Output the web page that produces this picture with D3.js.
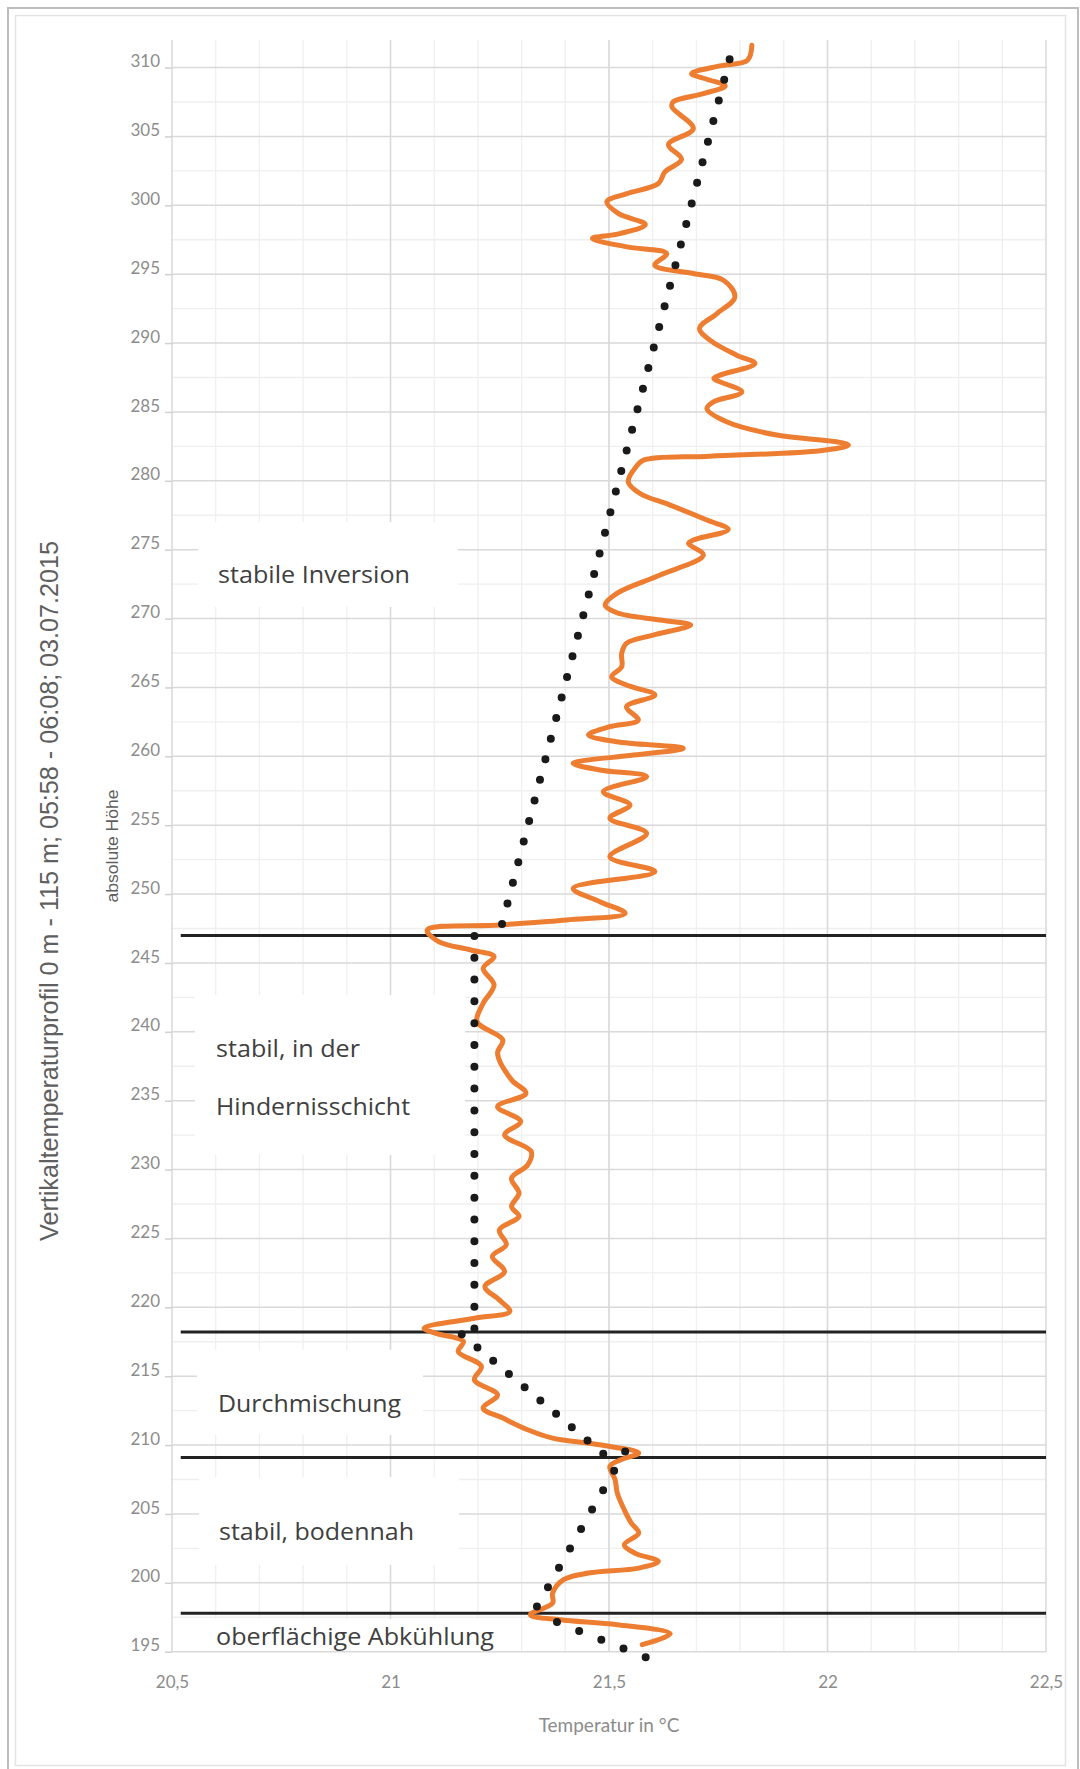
<!DOCTYPE html>
<html>
<head>
<meta charset="utf-8">
<script src="https://cdn.jsdelivr.net/npm/d3@7"></script>
<style>
  body { margin: 0; background: #fff; }
  svg { display: block; }
  .tick-label { font-family: Lato, "Open Sans", sans-serif; fill: #8c8c8c; }
  .note { font-family: "Open Sans", "Noto Sans", sans-serif; fill: #404040; }
</style>
</head>
<body>
<div id="chart"></div>
<script>
/* Vertical temperature profile: measured curve, layer trend lines, layer labels */

// measured profile, read top to bottom (temperature in °C, absolute height)
const profileTemp = [
  21.827, 21.817, 21.754, 21.689, 21.724, 21.766, 21.716, 21.647, 21.644, 21.693,
  21.636, 21.666, 21.628, 21.613, 21.541, 21.495, 21.522, 21.583, 21.525, 21.462,
  21.541, 21.632, 21.605, 21.693, 21.762, 21.788, 21.747, 21.707, 21.731, 21.792,
  21.834, 21.754, 21.740, 21.804, 21.739, 21.724, 21.769, 21.884, 22.021, 22.048,
  21.983, 21.731, 21.579, 21.562, 21.544, 21.571, 21.640, 21.724, 21.773, 21.693,
  21.682, 21.716, 21.617, 21.518, 21.491, 21.518, 21.617, 21.687, 21.601, 21.540,
  21.529, 21.529, 21.506, 21.540, 21.605, 21.540, 21.567, 21.502, 21.453, 21.517,
  21.670, 21.556, 21.418, 21.479, 21.586, 21.487, 21.548, 21.502, 21.586, 21.502,
  21.605, 21.418, 21.479, 21.537, 21.403, 21.251, 21.084, 21.110, 21.184, 21.237,
  21.212, 21.237, 21.212, 21.198, 21.257, 21.245, 21.277, 21.310, 21.245, 21.298,
  21.261, 21.322, 21.314, 21.277, 21.294, 21.277, 21.294, 21.249, 21.265, 21.233,
  21.261, 21.216, 21.249, 21.273, 21.192, 21.077, 21.102, 21.167, 21.155, 21.208,
  21.192, 21.245, 21.212, 21.257, 21.314, 21.371, 21.478, 21.568, 21.527, 21.502,
  21.514, 21.519, 21.535, 21.551, 21.568, 21.535, 21.559, 21.613, 21.568, 21.453,
  21.396, 21.371, 21.371, 21.320, 21.388, 21.519, 21.640, 21.576
];
const profileHeight = [
  311.62, 310.53, 310.12, 309.56, 309.15, 308.67, 308.11, 307.51, 307.14, 305.57,
  304.41, 303.34, 302.43, 301.58, 300.85, 300.25, 299.40, 298.60, 297.95, 297.59,
  296.98, 296.50, 295.65, 295.05, 294.56, 293.35, 292.14, 291.06, 290.21, 289.12,
  288.52, 287.67, 287.43, 286.46, 285.73, 285.25, 284.28, 283.32, 282.83, 282.59,
  282.18, 281.79, 281.50, 281.02, 279.93, 279.08, 278.24, 277.15, 276.47, 275.70,
  275.45, 274.61, 273.16, 271.83, 270.98, 270.42, 269.89, 269.53, 268.80, 268.20,
  267.47, 266.50, 265.78, 265.17, 264.45, 263.60, 262.63, 262.15, 261.55, 261.06,
  260.58, 260.09, 259.49, 259.01, 258.52, 257.43, 256.47, 255.50, 254.41, 252.71,
  251.63, 250.42, 249.45, 248.60, 248.12, 247.76, 247.39, 246.55, 245.94, 245.46,
  244.61, 243.40, 242.07, 240.74, 239.41, 238.44, 236.51, 235.54, 234.57, 233.49,
  232.52, 231.31, 230.34, 229.37, 228.29, 227.32, 226.59, 225.62, 224.54, 223.69,
  222.60, 221.51, 220.54, 219.70, 219.21, 218.49, 218.13, 217.52, 216.79, 215.71,
  214.74, 213.65, 212.68, 211.96, 211.11, 210.50, 210.02, 209.42, 208.93, 208.45,
  207.48, 206.51, 205.30, 204.34, 203.61, 202.77, 202.16, 201.56, 201.07, 200.71,
  200.23, 199.26, 198.53, 197.68, 197.32, 196.96, 196.30, 195.51
];

// linear trend per layer (start / end) and the number of dots drawn along it
const trendTemp = [[21.776, 21.255], [21.192, 21.192], [21.163, 21.487], [21.537, 21.335], [21.381, 21.584]];
const trendHeight = [[310.6, 247.8], [246.96, 218.45], [218.05, 209.37], [209.54, 198.27], [197.15, 194.59]];
const trendDots = [43, 19, 10, 9, 5];

// layer boundaries (height)
const layerBounds = [247.0, 218.2, 209.1, 197.8];

const xTicks = [20.5, 21, 21.5, 22, 22.5];
const xTickLabels = ['20,5', '21', '21,5', '22', '22,5'];
const yTicks = [195, 200, 205, 210, 215, 220, 225, 230, 235, 240, 245, 250, 255, 260,
  265, 270, 275, 280, 285, 290, 295, 300, 305, 310];

const layerNames = [['stabile Inversion'], ['stabil, in der', 'Hindernisschicht'], ['Durchmischung'],
  ['stabil, bodennah'], ['oberflächige Abkühlung']];

// label boxes (pixel layout): white box, text start, baselines, text widths
const labelBoxes = [
  { x: 198, y: 522, w: 260, h: 85, tx: 218, base: [583], len: [192] },
  { x: 195, y: 995, w: 270, h: 160, tx: 216, base: [1057, 1115], len: [144, 194] },
  { x: 197, y: 1350, w: 226, h: 85, tx: 218, base: [1412], len: [183] },
  { x: 199, y: 1477, w: 260, h: 88, tx: 219, base: [1540], len: [195] },
  { x: 199, y: 1619, w: 300, h: 32, tx: 216, base: [1645], len: [278] }
];

function renderChart() {
  const width = 1080, height = 1769;
  const plot = { left: 172, right: 1046, top: 40, bottom: 1651.7 };

  const svg = d3.select('#chart').append('svg')
    .attr('width', width).attr('height', height);

  // frame
  svg.append('rect').attr('x', 8).attr('y', 8).attr('width', 1070).attr('height', 1790)
    .attr('fill', 'none').attr('stroke', '#bdbdbd').attr('stroke-width', 2);
  svg.append('rect').attr('x', 15.5).attr('y', 15.5).attr('width', 1050).attr('height', 1750)
    .attr('fill', 'none').attr('stroke', '#e3e3e3').attr('stroke-width', 1.5);

  const x = d3.scaleLinear().domain([20.5, 22.5]).range([plot.left, plot.right]);
  const y = d3.scaleLinear().domain([195, 312]).range([plot.bottom, plot.top]);

  // minor grid
  const grid = svg.append('g');
  grid.selectAll('.vminor').data(d3.range(20.6, 22.45, 0.1)).enter().append('line')
    .attr('x1', d => x(d)).attr('x2', d => x(d))
    .attr('y1', plot.top).attr('y2', plot.bottom)
    .attr('stroke', '#efefef').attr('stroke-width', 1.3);
  grid.selectAll('.hminor').data(d3.range(197.5, 311, 5)).enter().append('line')
    .attr('x1', plot.left).attr('x2', plot.right)
    .attr('y1', d => y(d)).attr('y2', d => y(d))
    .attr('stroke', '#efefef').attr('stroke-width', 1.3);
  // major grid
  grid.selectAll('.vmajor').data(xTicks).enter().append('line')
    .attr('x1', d => x(d)).attr('x2', d => x(d))
    .attr('y1', plot.top).attr('y2', plot.bottom)
    .attr('stroke', '#d9d9d9').attr('stroke-width', 1.5);
  grid.selectAll('.hmajor').data(yTicks).enter().append('line')
    .attr('x1', plot.left).attr('x2', plot.right)
    .attr('y1', d => y(d)).attr('y2', d => y(d))
    .attr('stroke', '#d9d9d9').attr('stroke-width', 1.5);

  // y axis labels + ticks
  const yAxis = svg.append('g').attr('transform', `translate(${plot.left},0)`)
    .call(d3.axisLeft(y).tickValues(yTicks).tickSize(7).tickPadding(5));
  yAxis.select('.domain').remove();
  yAxis.selectAll('.tick line').attr('stroke', '#d0d0d0').attr('stroke-width', 1.5);
  yAxis.selectAll('.tick text').attr('class', 'tick-label').attr('dy', '-0.05em')
    .style('font-size', '17px');

  // x axis labels
  const xAxis = svg.append('g').attr('transform', `translate(0,${plot.bottom})`)
    .call(d3.axisBottom(x).tickValues(xTicks).tickSize(0).tickPadding(24)
      .tickFormat((d, i) => xTickLabels[i]));
  xAxis.select('.domain').remove();
  xAxis.selectAll('.tick text').attr('class', 'tick-label').style('font-size', '17px');

  svg.append('text').attr('class', 'tick-label')
    .attr('x', x(21.5)).attr('y', 1732).attr('text-anchor', 'middle')
    .style('font-size', '19px').text('Temperatur in °C');

  // titles
  svg.append('text')
    .attr('transform', 'translate(58,891) rotate(-90)')
    .attr('text-anchor', 'middle')
    .attr('textLength', 700).attr('lengthAdjust', 'spacingAndGlyphs')
    .style('font-family', '"Liberation Sans Narrow", "Liberation Sans", sans-serif')
    .style('font-size', '26px').style('fill', '#5f5f5f')
    .text('Vertikaltemperaturprofil 0 m - 115 m; 05:58 - 06:08; 03.07.2015');
  svg.append('text')
    .attr('transform', 'translate(118,846) rotate(-90)')
    .attr('text-anchor', 'middle')
    .attr('textLength', 113).attr('lengthAdjust', 'spacingAndGlyphs')
    .style('font-family', '"Liberation Sans Narrow", "Liberation Sans", sans-serif')
    .style('font-size', '16px').style('fill', '#5f5f5f')
    .text('absolute Höhe');

  // label boxes
  labelBoxes.forEach((b, i) => {
    svg.append('rect').attr('x', b.x).attr('y', b.y).attr('width', b.w).attr('height', b.h)
      .attr('fill', '#fff');
    layerNames[i].forEach((t, j) => {
      svg.append('text').attr('class', 'note')
        .attr('x', b.tx).attr('y', b.base[j])
        .attr('textLength', b.len[j]).attr('lengthAdjust', 'spacingAndGlyphs')
        .style('font-size', '24px').text(t);
    });
  });

  // layer boundaries
  svg.selectAll('.bound').data(layerBounds).enter().append('line')
    .attr('x1', x(20.52)).attr('x2', x(22.5))
    .attr('y1', d => y(d)).attr('y2', d => y(d))
    .attr('stroke', '#222').attr('stroke-width', 3);

  // measured profile
  const profile = profileTemp.map((t, i) => [t, profileHeight[i]]);
  const line = d3.line().x(d => x(d[0])).y(d => y(d[1])).curve(d3.curveCatmullRom.alpha(0.5));
  svg.append('path').datum(profile)
    .attr('d', line)
    .attr('fill', 'none').attr('stroke', '#ed7d31').attr('stroke-width', 5)
    .attr('stroke-linejoin', 'round').attr('stroke-linecap', 'round');

  // dotted trend lines, dot spacing spread evenly over each segment
  const trendLine = d3.line().x(d => x(d[0])).y(d => y(d[1]));
  trendTemp.forEach((ts, i) => {
    const path = svg.append('path').datum(ts.map((t, j) => [t, trendHeight[i][j]]))
      .attr('d', trendLine)
      .attr('fill', 'none').attr('stroke', '#1a1a1a').attr('stroke-width', 8)
      .attr('stroke-linecap', 'round');
    const len = path.node().getTotalLength();
    const gap = len / (trendDots[i] - 1);
    path.attr('stroke-dasharray', `0 ${gap - 0.01}`);
  });
}

document.addEventListener('DOMContentLoaded', renderChart);
</script>
</body>
</html>
